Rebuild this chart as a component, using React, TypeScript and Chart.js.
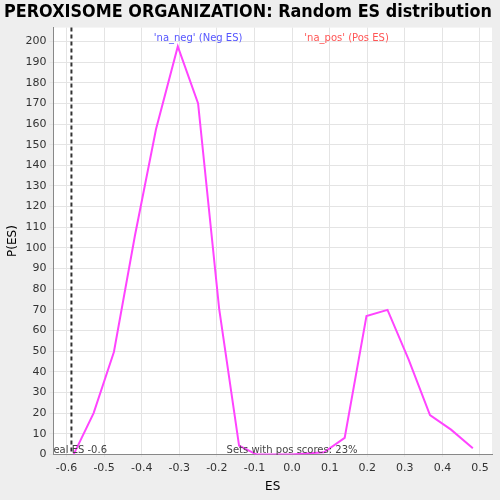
import React, { useEffect, useRef } from 'react';
import { Chart, registerables } from 'chart.js';

Chart.register(...registerables);

const esValues = [-0.581, -0.528, -0.474, -0.418, -0.362, -0.304, -0.25, -0.194, -0.141, -0.095, -0.04, 0.0, 0.085, 0.14, 0.198, 0.254, 0.31, 0.367, 0.423, 0.481];
const densityValues = [0, 20, 49.6, 106, 157.5, 197.6, 170, 70.6, 4.3, 0, 0, 0, 1, 8, 67, 70, 46, 19, 12, 3];
const realEs = -0.587;

const annotations = {
  id: 'annotations',
  beforeDraw(chart: Chart) {
    const { ctx, chartArea } = chart;
    ctx.save();
    ctx.fillStyle = '#ffffff';
    ctx.fillRect(chartArea.left, chartArea.top, chartArea.right - chartArea.left, chartArea.bottom - chartArea.top);
    ctx.restore();
  },
  afterDatasetsDraw(chart: Chart) {
    const { ctx, chartArea, scales } = chart;
    const x = scales.x.getPixelForValue(realEs);
    ctx.save();
    ctx.strokeStyle = '#333';
    ctx.lineWidth = 2;
    ctx.setLineDash([4, 3]);
    ctx.beginPath();
    ctx.moveTo(x, chartArea.top);
    ctx.lineTo(x, chartArea.bottom);
    ctx.stroke();
    ctx.setLineDash([]);
    ctx.font = '10px "DejaVu Sans"';
    ctx.textBaseline = 'alphabetic';
    ctx.fillStyle = '#5555ff';
    ctx.textAlign = 'center';
    ctx.fillText("'na_neg' (Neg ES)", scales.x.getPixelForValue(-0.25), chartArea.top + 13);
    ctx.fillStyle = '#ff5555';
    ctx.fillText("'na_pos' (Pos ES)", scales.x.getPixelForValue(0.145), chartArea.top + 13);
    ctx.fillStyle = '#444';
    ctx.fillText('Sets with pos scores: 23%', scales.x.getPixelForValue(0.0), chartArea.bottom - 1);
    ctx.textAlign = 'left';
    ctx.fillText('eal ES -0.6', chartArea.left, chartArea.bottom - 1);
    ctx.restore();
  },
};

const App: React.FC = () => {
  const chartRef = useRef<HTMLCanvasElement>(null);
  const chartInstance = useRef<Chart | null>(null);

  useEffect(() => {
    document.body.style.margin = '0';
    document.body.style.background = '#eeeeee';
    if (!chartRef.current) return;
    chartInstance.current = new Chart(chartRef.current, {
      type: 'scatter',
      data: {
        datasets: [
          {
            data: esValues.map((x, i) => ({ x, y: densityValues[i] })),
            showLine: true,
            borderColor: '#ff44ff',
            borderWidth: 2,
            pointRadius: 0,
            tension: 0,
          },
        ],
      },
      options: {
        animation: false,
        responsive: false,
        layout: { padding: { left: 4, right: 8, top: 0, bottom: 4 } },
        plugins: {
          legend: { display: false },
          tooltip: { enabled: false },
          title: {
            display: true,
            text: 'PEROXISOME ORGANIZATION: Random ES distribution',
            color: '#000',
            font: { size: 18, weight: 'bold', family: '"DejaVu Sans"' },
            padding: { top: 2, bottom: 4 },
          },
        },
        scales: {
          x: {
            type: 'linear',
            min: -0.635,
            max: 0.532,
            border: { color: '#888' },
            grid: { color: '#e4e4e4', tickBorderDash: [2, 2], drawTicks: true, tickLength: 4 },
            ticks: {
              stepSize: 0.1,
              color: '#333',
              font: { size: 11, family: '"DejaVu Sans"' },
              callback: (v) => {
                const n = Number(v);
                const r = Math.round(n * 10);
                if (Math.abs(n * 10 - r) > 1e-6) return '';
                return (r / 10).toFixed(1);
              },
            },
            afterBuildTicks: (axis) => {
              const t = [];
              for (let i = -6; i <= 5; i++) t.push({ value: i / 10 });
              axis.ticks = t;
            },
            title: { display: true, text: 'ES', color: '#000', font: { size: 12, family: '"DejaVu Sans"' }, padding: 2 },
          },
          y: {
            min: 0,
            max: 206.7,
            border: { color: '#888' },
            grid: { color: '#e4e4e4', tickLength: 4 },
            ticks: {
              stepSize: 10,
              color: '#333',
              font: { size: 11, family: '"DejaVu Sans"' },
            },
            afterBuildTicks: (axis) => {
              const t = [];
              for (let i = 0; i <= 200; i += 10) t.push({ value: i });
              axis.ticks = t;
            },
            title: { display: true, text: 'P(ES)', color: '#000', font: { size: 12, family: '"DejaVu Sans"' }, padding: 2 },
          },
        },
      },
      plugins: [annotations],
    });
    return () => {
      chartInstance.current?.destroy();
      chartInstance.current = null;
    };
  }, []);

  return <canvas ref={chartRef} width={500} height={500} style={{ display: 'block' }} />;
};

export default App;
